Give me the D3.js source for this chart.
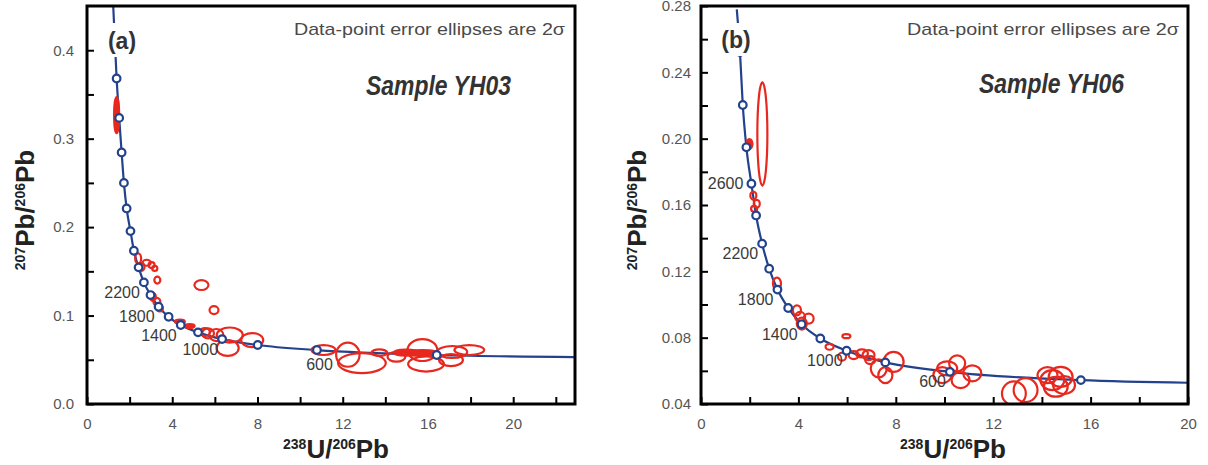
<!DOCTYPE html>
<html lang="en">
<head>
<meta charset="utf-8">
<title>U-Pb Tera-Wasserburg</title>
<script src="https://cdn.jsdelivr.net/npm/d3@7"></script>
<style>
body { margin: 0; background: #fff; }
svg text { font-family: "Liberation Sans", Arial, sans-serif; }
.ticklab { font-size: 15px; fill: #555; }
.agelab { font-size: 16px; fill: #3a3a3a; }
.note { font-size: 17px; fill: #4a4a4a; }
.sample { font-size: 27px; font-weight: bold; font-style: italic; fill: #333; }
.plabel { font-size: 23px; font-weight: bold; fill: #333; }
.title { font-weight: bold; fill: #222; }
</style>
</head>
<body>
<script>
// ---- panel (a) : Sample YH03 ----
var markerAgesA = [3800,3600,3400,3200,3000,2800,2600,2400,2200,2000,1800,1600,1400,1200,1000,800,600,400];
var markerXA = [1.39,1.51,1.625,1.733,1.86,2.04,2.20,2.42,2.67,2.98,3.36,3.83,4.40,5.21,6.34,8.01,10.79,16.41];
var markerYA = [0.368,0.3235,0.2844,0.250,0.2211,0.1955,0.1733,0.1545,0.1375,0.1232,0.1100,0.0986,0.0893,0.0810,0.0734,0.0667,0.0610,0.0554];
var curveTopA = [1.23, 0.45], curveEndA = [22.9, 0.0531];
var labelAgesA = [2200, 1800, 1400, 1000, 600];
var xTicksA = [0,4,8,12,16,20], xMinorA = [2,6,10,14,18,22];
var yTicksA = [0,0.1,0.2,0.3,0.4], yMinorA = [0.05,0.15,0.25,0.35];
// [x, y, half-width x, half-width y, filled]
var ellipsesA = [
  [1.39,0.3266,0.117,0.0203,1],
  [2.40,0.1646,0.14,0.0056,0],
  [2.56,0.1551,0.14,0.0045,0],
  [2.80,0.1597,0.19,0.0034,0],
  [3.03,0.1571,0.14,0.0034,0],
  [3.18,0.1533,0.12,0.0028,0],
  [3.30,0.1401,0.14,0.0040,0],
  [5.37,0.1345,0.33,0.0056,0],
  [5.96,0.1062,0.21,0.0045,0],
  [3.09,0.1212,0.14,0.0045,0],
  [3.28,0.1156,0.16,0.0045,0],
  [3.42,0.1081,0.14,0.0034,0],
  [4.36,0.0930,0.23,0.0023,1],
  [4.82,0.0881,0.23,0.0023,1],
  [5.53,0.0814,0.23,0.0045,0],
  [5.68,0.0799,0.28,0.0056,0],
  [6.07,0.0780,0.33,0.0068,0],
  [6.70,0.0780,0.61,0.0085,0],
  [6.60,0.0633,0.52,0.0090,0],
  [7.75,0.0723,0.52,0.0079,0],
  [11.10,0.0610,0.56,0.0056,0],
  [12.24,0.0557,0.55,0.0136,0],
  [12.90,0.0463,1.12,0.0113,0],
  [13.72,0.0580,0.37,0.0037,0],
  [14.52,0.0534,0.42,0.0056,0],
  [15.74,0.0610,0.70,0.0124,0],
  [14.97,0.0580,0.56,0.0034,1],
  [15.74,0.0576,0.70,0.0034,1],
  [15.91,0.0452,0.84,0.0085,0],
  [17.14,0.0588,0.70,0.0068,0],
  [17.94,0.0610,0.70,0.0056,0],
  [17.08,0.0497,0.56,0.0068,0]
];

// ---- panel (b) : Sample YH06 ----
var markerAgesB = [3200,3000,2800,2600,2400,2200,2000,1800,1600,1400,1200,1000,800,600,400];
var markerXB = [1.60,1.716,1.864,2.07,2.263,2.51,2.80,3.14,3.58,4.13,4.90,5.98,7.57,10.22,15.60];
var markerYB = [0.2523,0.2203,0.1948,0.1728,0.1537,0.1367,0.1216,0.1090,0.0979,0.0881,0.0795,0.0721,0.0651,0.0594,0.0544];
var curveTopB = [1.47, 0.278], curveEndB = [20, 0.0528];
var labelAgesB = [2600, 2200, 1800, 1400, 1000, 600];
var xTicksB = [0,4,8,12,16,20], xMinorB = [2,6,10,14,18];
var yTicksB = [0.04,0.08,0.12,0.16,0.20,0.24,0.28], yMinorB = [0.06,0.10,0.14,0.18,0.22,0.26];
var ellipsesB = [
  [2.52,0.2028,0.206,0.0311,0],
  [1.99,0.1968,0.123,0.0030,1],
  [2.15,0.1657,0.123,0.0024,0],
  [2.29,0.1607,0.123,0.0024,0],
  [2.18,0.1577,0.123,0.0018,0],
  [3.12,0.1126,0.165,0.0036,0],
  [3.94,0.0965,0.165,0.0030,0],
  [4.07,0.0925,0.206,0.0030,0],
  [4.42,0.0915,0.206,0.0030,0],
  [4.14,0.0885,0.206,0.0036,0],
  [5.97,0.0809,0.165,0.0012,0],
  [5.28,0.0745,0.165,0.0018,0],
  [5.79,0.0685,0.165,0.0024,0],
  [6.27,0.0695,0.206,0.0024,0],
  [6.61,0.0705,0.247,0.0024,0],
  [6.88,0.0695,0.247,0.0030,0],
  [6.95,0.0665,0.206,0.0024,0],
  [7.91,0.0654,0.41,0.0060,0],
  [7.30,0.0615,0.33,0.0054,0],
  [7.57,0.0574,0.29,0.0048,0],
  [9.91,0.0574,0.37,0.0048,0],
  [10.52,0.0645,0.33,0.0048,0],
  [10.66,0.0544,0.37,0.0048,0],
  [11.14,0.0585,0.37,0.0048,0],
  [10.11,0.0615,0.41,0.0042,0],
  [12.85,0.0464,0.49,0.0072,0],
  [13.33,0.0484,0.49,0.0072,0],
  [14.43,0.0544,0.49,0.0060,0],
  [14.57,0.0504,0.49,0.0060,0],
  [14.23,0.0574,0.41,0.0048,0],
  [14.77,0.0564,0.49,0.0060,0],
  [14.91,0.0514,0.45,0.0054,0]
];

var BLUE = "#23428c", RED = "#e8281e";

var svg = d3.select("body").append("svg")
    .attr("width", 1208).attr("height", 465);

draw({
  id: "a", left: 87, right: 575, top: 6, bottom: 404,
  xDomain: [0, 22.9], yDomain: [0, 0.45],
  xTicks: xTicksA, xMinor: xMinorA, yTicks: yTicksA, yMinor: yMinorA,
  yFormat: d3.format(".1f"), yPad: 13,
  ages: markerAgesA, mx: markerXA, my: markerYA, top0: curveTopA, end0: curveEndA,
  labelAges: labelAgesA, labelShift: {600: [16, 14]},
  ellipses: ellipsesA,
  box: [104, 23, 37, 34], tag: "(a)", tagX: 122, tagY: 49,
  noteX: 294, noteW: 271, sample: "Sample YH03", sampleX: 366, sampleY: 95,
  yTitleX: 34, xTitleX: 336
});
draw({
  id: "b", left: 701, right: 1188, top: 6, bottom: 404,
  xDomain: [0, 20], yDomain: [0.04, 0.28],
  xTicks: xTicksB, xMinor: xMinorB, yTicks: yTicksB, yMinor: yMinorB,
  yFormat: d3.format(".2f"), yPad: 10,
  ages: markerAgesB, mx: markerXB, my: markerYB, top0: curveTopB, end0: curveEndB,
  labelAges: labelAgesB, labelShift: {2600: [-8, 0]},
  ellipses: ellipsesB,
  box: [718, 23, 37, 33], tag: "(b)", tagX: 736, tagY: 48,
  noteX: 907, noteW: 272, sample: "Sample YH06", sampleX: 979, sampleY: 93,
  yTitleX: 646, xTitleX: 953
});

function draw(p) {
  var x = d3.scaleLinear().domain(p.xDomain).range([p.left, p.right]);
  var y = d3.scaleLinear().domain(p.yDomain).range([p.bottom, p.top]);
  var g = svg.append("g");

  g.append("clipPath").attr("id", "clip-" + p.id)
    .append("rect")
    .attr("x", p.left).attr("y", p.top)
    .attr("width", p.right - p.left).attr("height", p.bottom - p.top);
  var plot = g.append("g").attr("clip-path", "url(#clip-" + p.id + ")");

  // concordia curve through the age markers
  var markers = p.ages.map(function(a, i) { return {age: a, x: p.mx[i], y: p.my[i]}; });
  var pts = [p.top0].concat(markers.map(function(d) { return [d.x, d.y]; }), [p.end0])
      .sort(function(a, b) { return a[0] - b[0]; });
  var line = d3.line()
      .x(function(d) { return x(d[0]); })
      .y(function(d) { return y(d[1]); })
      .curve(d3.curveMonotoneX);
  plot.append("path").datum(pts)
    .attr("d", line)
    .attr("fill", "none").attr("stroke", BLUE).attr("stroke-width", 2.2);

  // error ellipses
  plot.selectAll(".ell").data(p.ellipses).enter().append("ellipse")
    .attr("class", "ell")
    .attr("cx", function(d) { return x(d[0]); })
    .attr("cy", function(d) { return y(d[1]); })
    .attr("rx", function(d) { return x(d[0] + d[2]) - x(d[0]); })
    .attr("ry", function(d) { return y(d[1]) - y(d[1] + d[3]); })
    .attr("fill", function(d) { return d[4] ? RED : "none"; })
    .attr("stroke", RED).attr("stroke-width", 2.2);

  // age markers
  plot.selectAll(".mk").data(markers).enter().append("circle")
    .attr("class", "mk")
    .attr("cx", function(d) { return x(d.x); })
    .attr("cy", function(d) { return y(d.y); })
    .attr("r", 3.8)
    .attr("fill", "#fff").attr("stroke", BLUE).attr("stroke-width", 2.2);

  // age labels
  markers.filter(function(d) { return p.labelAges.indexOf(d.age) >= 0; }).forEach(function(d) {
    var s = p.labelShift[d.age] || [-4, 10];
    g.append("text").attr("class", "agelab")
      .attr("x", x(d.x) + s[0]).attr("y", y(d.y) + s[1])
      .attr("dy", "0.35em").attr("text-anchor", "end")
      .text(d.age);
  });

  // panel tag with white backing
  g.append("rect").attr("x", p.box[0]).attr("y", p.box[1])
    .attr("width", p.box[2]).attr("height", p.box[3]).attr("fill", "#fff");
  g.append("text").attr("class", "plabel")
    .attr("x", p.tagX).attr("y", p.tagY).attr("text-anchor", "middle").text(p.tag);

  // axes (ticks pointing inward)
  g.append("g").attr("transform", "translate(0," + p.bottom + ")")
    .call(d3.axisBottom(x).tickValues(p.xTicks).tickSize(-7).tickPadding(14));
  g.append("g").attr("transform", "translate(0," + p.bottom + ")")
    .call(d3.axisBottom(x).tickValues(p.xMinor).tickSize(-7).tickFormat(""));
  g.append("g").attr("transform", "translate(" + p.left + ",0)")
    .call(d3.axisLeft(y).tickValues(p.yTicks).tickSize(-7).tickPadding(p.yPad).tickFormat(p.yFormat));
  g.append("g").attr("transform", "translate(" + p.left + ",0)")
    .call(d3.axisLeft(y).tickValues(p.yMinor).tickSize(-7).tickFormat(""));
  g.selectAll(".domain").remove();
  g.selectAll(".tick line").attr("stroke", "#000").attr("stroke-width", 2);
  g.selectAll(".tick text").attr("class", "ticklab").attr("fill", null);

  // frame
  g.append("rect")
    .attr("x", p.left).attr("y", p.top)
    .attr("width", p.right - p.left).attr("height", p.bottom - p.top)
    .attr("fill", "none").attr("stroke", "#000").attr("stroke-width", 3);

  // annotations
  g.append("text").attr("class", "note")
    .attr("x", p.noteX).attr("y", 35)
    .attr("textLength", p.noteW).attr("lengthAdjust", "spacingAndGlyphs")
    .text("Data-point error ellipses are 2\u03C3");
  g.append("text").attr("class", "sample")
    .attr("x", p.sampleX).attr("y", p.sampleY)
    .attr("textLength", 145).attr("lengthAdjust", "spacingAndGlyphs")
    .text(p.sample);

  // axis titles
  var yt = g.append("text").attr("class", "title")
    .attr("transform", "translate(" + p.yTitleX + "," + 210 + ") rotate(-90)")
    .attr("text-anchor", "middle");
  yt.append("tspan").attr("font-size", 14).attr("dy", -9).text("207");
  yt.append("tspan").attr("font-size", 26).attr("dy", 9).text("Pb/");
  yt.append("tspan").attr("font-size", 14).attr("dy", -9).text("206");
  yt.append("tspan").attr("font-size", 26).attr("dy", 9).text("Pb");

  var xt = g.append("text").attr("class", "title")
    .attr("x", p.xTitleX).attr("y", 458).attr("text-anchor", "middle");
  xt.append("tspan").attr("font-size", 14).attr("dy", -9).text("238");
  xt.append("tspan").attr("font-size", 26).attr("dy", 9).text("U/");
  xt.append("tspan").attr("font-size", 14).attr("dy", -9).text("206");
  xt.append("tspan").attr("font-size", 26).attr("dy", 9).text("Pb");
}
</script>
</body>
</html>
